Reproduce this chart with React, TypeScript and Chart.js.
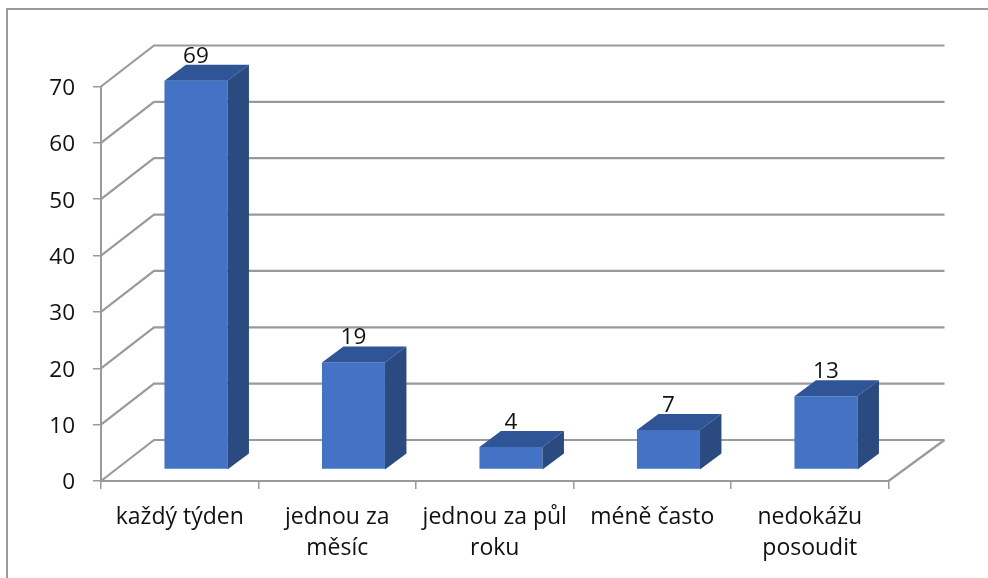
import React, { useEffect, useRef } from "react";
import { Chart, registerables } from "chart.js";

Chart.register(...registerables);

const categories = [
  "každý týden",
  ["jednou za", "měsíc"],
  ["jednou za půl", "roku"],
  "méně často",
  ["nedokážu", "posoudit"],
];
const values = [69, 19, 4, 7, 13];
const yMax = 70;
const yStep = 10;

const GRID = "#9a9a9a";
const FRONT = "#4472c4";
const TOP = "#2f5597";
const SIDE = "#2b4a80";
const TEXT = "#111111";
const FONT = "'Open Sans'";

const WALL_DX = 53;
const WALL_DX_RIGHT = 56;
const WALL_DY = -41;
const BAR_DX = 16.2;
const BAR_DY = -11.5;
const BAR_DEPTH_X = 21.5;
const BAR_DEPTH_Y = -16;

const threeD = {
  id: "threeD",
  beforeDatasetsDraw(chart: any) {
    const { ctx, scales } = chart;
    const x = scales.x;
    const y = scales.y;
    const l = x.left;
    const r = x.right;
    ctx.save();
    ctx.strokeStyle = GRID;
    ctx.lineWidth = 2.2;
    for (let v = 0; v <= yMax; v += yStep) {
      const py = y.getPixelForValue(v);
      ctx.beginPath();
      ctx.moveTo(l, py);
      ctx.lineTo(l + WALL_DX, py + WALL_DY);
      ctx.lineTo(r + WALL_DX_RIGHT, py + WALL_DY);
      ctx.stroke();
    }
    const y0 = y.getPixelForValue(0);
    ctx.beginPath();
    ctx.moveTo(r, y0);
    ctx.lineTo(r + WALL_DX_RIGHT, y0 + WALL_DY);
    ctx.stroke();
    ctx.restore();
  },
  beforeDatasetDraw(chart: any) {
    chart.ctx.save();
    chart.ctx.translate(BAR_DX, BAR_DY);
  },
  afterDatasetDraw(chart: any) {
    chart.ctx.restore();
  },
  afterDatasetsDraw(chart: any) {
    const { ctx, scales } = chart;
    const meta = chart.getDatasetMeta(0);
    const y0 = scales.y.getPixelForValue(0) + BAR_DY;
    ctx.save();
    meta.data.forEach((bar: any, i: number) => {
      const p = bar.getProps(["x", "y", "width"], true);
      const left = p.x - p.width / 2 + BAR_DX;
      const right = p.x + p.width / 2 + BAR_DX;
      const top = p.y + BAR_DY;
      ctx.fillStyle = TOP;
      ctx.beginPath();
      ctx.moveTo(left, top);
      ctx.lineTo(left + BAR_DEPTH_X, top + BAR_DEPTH_Y);
      ctx.lineTo(right + BAR_DEPTH_X, top + BAR_DEPTH_Y);
      ctx.lineTo(right, top);
      ctx.closePath();
      ctx.fill();
      ctx.fillStyle = SIDE;
      ctx.beginPath();
      ctx.moveTo(right, top);
      ctx.lineTo(right + BAR_DEPTH_X, top + BAR_DEPTH_Y);
      ctx.lineTo(right + BAR_DEPTH_X, y0 + BAR_DEPTH_Y);
      ctx.lineTo(right, y0);
      ctx.closePath();
      ctx.fill();
      ctx.fillStyle = TEXT;
      ctx.font = `22.5px ${FONT}`;
      ctx.textAlign = "center";
      ctx.textBaseline = "alphabetic";
      ctx.fillText(String(values[i]), (left + right) / 2, top - 18);
    });
    ctx.restore();
  },
};

export default function App() {
  const ref = useRef<HTMLCanvasElement>(null);
  useEffect(() => {
    document.body.style.margin = "0";
    const chart = new Chart(ref.current as HTMLCanvasElement, {
      type: "bar",
      data: {
        labels: categories as any,
        datasets: [
          {
            data: values,
            backgroundColor: FRONT,
            borderWidth: 0,
            barPercentage: 0.4,
            categoryPercentage: 1,
          },
        ],
      },
      options: {
        responsive: false,
        animation: false,
        layout: { padding: { left: 0, right: 99.5, top: 86.5, bottom: 0 } },
        plugins: { legend: { display: false }, tooltip: { enabled: false } },
        scales: {
          x: {
            afterFit(s: any) {
              s.height = 97;
            },
            grid: { drawOnChartArea: false, color: GRID, lineWidth: 1.5, tickLength: 8, offset: true },
            border: { color: GRID, width: 2 },
            ticks: {
              color: TEXT,
              padding: 13,
              maxRotation: 0,
              autoSkip: false,
              font: { family: FONT, size: 23, lineHeight: 1.36 },
            },
          },
          y: {
            min: 0,
            max: yMax,
            afterFit(s: any) {
              s.width = 101;
            },
            grid: { drawOnChartArea: false, color: GRID, lineWidth: 1.5, tickLength: 8 },
            border: { color: GRID, width: 2 },
            ticks: {
              stepSize: yStep,
              color: TEXT,
              padding: 18,
              labelOffset: 2,
              font: { family: FONT, size: 22.5 },
            },
          },
        },
      },
      plugins: [threeD],
    } as any);
    return () => chart.destroy();
  }, []);
  return (
    <div style={{ position: "fixed", left: 0, top: 0, width: 988, height: 578, overflow: "hidden", background: "#fff" }}>
      <div style={{ position: "absolute", left: 6, top: 8, width: 1200, height: 800, border: "2px solid #9a9a9a", boxSizing: "border-box" }} />
      <canvas ref={ref} width={988} height={578} style={{ position: "absolute", left: 0, top: 0 }} />
    </div>
  );
}
